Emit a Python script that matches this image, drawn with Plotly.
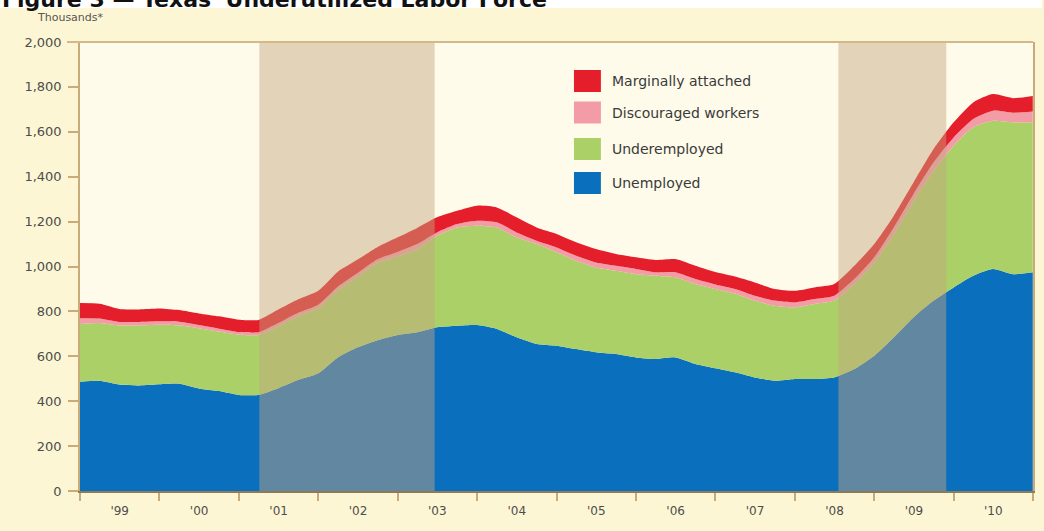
import plotly.graph_objects as go

# Quarterly readings, thousands of persons
dates = [
    "1999-01-01", "1999-04-01", "1999-07-01", "1999-10-01",
    "2000-01-01", "2000-04-01", "2000-07-01", "2000-10-01",
    "2001-01-01", "2001-04-01", "2001-07-01", "2001-10-01",
    "2002-01-01", "2002-04-01", "2002-07-01", "2002-10-01",
    "2003-01-01", "2003-04-01", "2003-07-01", "2003-10-01",
    "2004-01-01", "2004-04-01", "2004-07-01", "2004-10-01",
    "2005-01-01", "2005-04-01", "2005-07-01", "2005-10-01",
    "2006-01-01", "2006-04-01", "2006-07-01", "2006-10-01",
    "2007-01-01", "2007-04-01", "2007-07-01", "2007-10-01",
    "2008-01-01", "2008-04-01", "2008-07-01", "2008-10-01",
    "2009-01-01", "2009-04-01", "2009-07-01", "2009-10-01",
    "2010-01-01", "2010-04-01", "2010-07-01", "2010-10-01",
    "2010-12-31",
]

unemployed = [
    487, 491, 474, 470, 475, 478, 457, 445, 428, 428, 458, 495,
    525, 595, 640, 672, 695, 707, 729, 736, 739, 722, 685, 655,
    647, 632, 618, 610, 595, 588, 595, 566, 547, 529, 506, 491,
    499, 499, 506, 543, 603, 685, 774, 848, 907, 959, 989, 966,
    974,
]
underemployed = [
    257, 257, 263, 268, 266, 260, 268, 265, 268, 267, 275, 285,
    290, 300, 316, 345, 350, 371, 408, 438, 443, 452, 445, 445,
    416, 394, 378, 371, 371, 371, 357, 356, 353, 351, 342, 334,
    319, 334, 342, 379, 415, 460, 519, 579, 631, 661, 660, 676,
    668,
]
discouraged = [
    25, 20, 16, 15, 15, 16, 14, 13, 12, 12, 15, 14,
    15, 15, 15, 15, 20, 22, 15, 15, 22, 23, 22, 15,
    22, 22, 22, 22, 23, 15, 22, 22, 20, 20, 22, 23,
    22, 22, 22, 22, 23, 29, 30, 37, 37, 37, 45, 43,
    48,
]
marginal = [
    68, 66, 58, 56, 57, 52, 52, 55, 55, 55, 60, 60,
    62, 67, 60, 55, 65, 72, 67, 59, 67, 66, 67, 59,
    60, 60, 60, 53, 52, 55, 59, 59, 55, 55, 59, 52,
    52, 52, 52, 59, 59, 52, 52, 59, 67, 74, 74, 65,
    70,
]

series_names = ["Unemployed", "Underemployed", "Discouraged workers", "Marginally attached"]
series_values = [unemployed, underemployed, discouraged, marginal]
series_colors = ["#0a6fbd", "#aad067", "#f39ba6", "#e41e2b"]

# Texas recessions
recessions = [("2001-04-05", "2003-06-20"), ("2008-07-20", "2009-11-28")]

y_ticks = list(range(0, 2001, 200))

W, H = 1044, 531
ML, MR, MT, MB = 80, 9, 42, 40
PW, PH = W - ML - MR, H - MT - MB


def px(xp):
    return (xp - ML) / PW


def py(yp):
    return 1 - (yp - MT) / PH


fig = go.Figure()
for name, vals, col in zip(series_names, series_values, series_colors):
    fig.add_trace(go.Scatter(
        x=dates, y=vals, name=name, mode="lines",
        stackgroup="labor", line=dict(width=0, color=col, shape="spline", smoothing=0.6),
        fillcolor=col, hoverinfo="x+y+name", showlegend=False,
    ))

shapes = [
    # white strip behind the heading
    dict(type="rect", xref="paper", yref="paper", x0=px(0), x1=px(W), y0=py(8), y1=py(-2),
         fillcolor="#ffffff", line=dict(width=0), layer="below"),
]
for a, b in recessions:
    shapes.append(dict(type="rect", xref="x", yref="y", x0=a, x1=b, y0=0, y1=2000,
                       fillcolor="rgba(196,166,128,0.47)", line=dict(width=0), layer="above"))
# top frame line
shapes.append(dict(type="line", xref="paper", yref="paper", x0=px(67), x1=1, y0=1, y1=1,
                   line=dict(color="#d2b98a", width=2), layer="above"))

annotations = [
    dict(text="<b>Figure 3 — Texas' Underutilized Labor Force</b>", xref="paper", yref="paper",
         x=px(0), y=py(14), xanchor="left", yanchor="bottom", showarrow=False,
         font=dict(family="DejaVu Sans", size=22, color="#111111")),
    dict(text="Thousands*", xref="paper", yref="paper", x=px(35), y=py(17),
         xanchor="left", yanchor="middle", showarrow=False,
         font=dict(family="DejaVu Sans", size=11, color="#555555")),
]

# legend block
legend_rows = [(81, 3), (112.5, 2), (149, 1), (183, 0)]
for yc, idx in legend_rows:
    shapes.append(dict(type="rect", xref="paper", yref="paper",
                       x0=px(575), x1=px(602), y0=py(yc - 11), y1=py(yc + 11),
                       fillcolor=series_colors[idx], line=dict(width=0), layer="above"))
    annotations.append(dict(text=series_names[idx], xref="paper", yref="paper",
                            x=px(611), y=py(yc), xanchor="left", yanchor="middle",
                            showarrow=False,
                            font=dict(family="DejaVu Sans", size=14, color="#3a3a3a")))

fig.update_layout(
    width=W, height=H,
    margin=dict(l=ML, r=MR, t=MT, b=MB),
    paper_bgcolor="#fdf6d4",
    plot_bgcolor="#fffbea",
    showlegend=False,
    shapes=shapes,
    annotations=annotations,
    font=dict(family="DejaVu Sans", size=13, color="#4d4d4d"),
)
fig.update_xaxes(
    type="date", range=["1999-01-01", "2011-01-01"],
    tick0="1999-01-01", dtick="M12", tickformat="'%y", ticklabelmode="period",
    ticks="outside", ticklen=8, tickcolor="#c9ab7a", tickwidth=1.5,
    showline=True, linecolor="#8c7a58", linewidth=2,
    showgrid=False, zeroline=False,
    tickfont=dict(family="DejaVu Sans", size=12, color="#4d4d4d"),
)
fig.update_yaxes(
    range=[0, 2000], tickvals=y_ticks, tickformat=",",
    ticks="outside", ticklen=10, tickcolor="#c9ab7a", tickwidth=1.5,
    showline=True, linecolor="#c9ab7a", linewidth=1.5, mirror=True,
    showgrid=False, zeroline=False, ticklabelstandoff=4,
    tickfont=dict(family="DejaVu Sans", size=13, color="#4d4d4d"),
)

fig.write_html("out.html")
